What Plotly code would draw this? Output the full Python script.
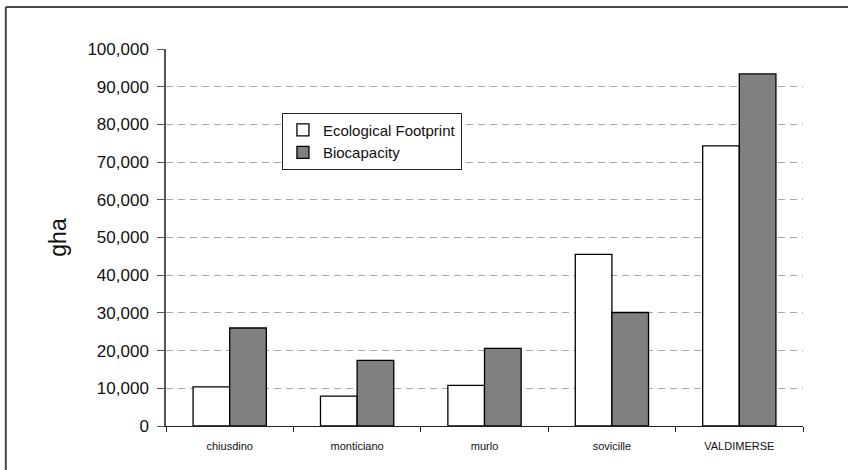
import plotly.graph_objects as go

# Municipalities and their values (global hectares)
municipalities = ["chiusdino", "monticiano", "murlo", "sovicille", "VALDIMERSE"]
ecological_footprint = [10400, 7900, 10800, 45500, 74300]
biocapacity = [26000, 17400, 20600, 30100, 93400]

y_ticks = [0, 10000, 20000, 30000, 40000, 50000, 60000, 70000, 80000, 90000, 100000]

FONT = "Liberation Sans, Arial, sans-serif"

fig = go.Figure()
fig.add_trace(go.Bar(
    x=municipalities, y=ecological_footprint, name="Ecological Footprint",
    marker=dict(color="white", line=dict(color="black", width=1.3)),
))
fig.add_trace(go.Bar(
    x=municipalities, y=biocapacity, name="Biocapacity",
    marker=dict(color="#808080", line=dict(color="black", width=1.3)),
))

fig.update_layout(
    width=848, height=470,
    margin=dict(l=166, r=45, t=49, b=44),
    paper_bgcolor="white", plot_bgcolor="white",
    barmode="group", bargap=0.425, bargroupgap=0,
    font=dict(family=FONT, color="#111"),
    showlegend=True,
    legend=dict(
        x=0.182, y=0.831, xanchor="left", yanchor="top",
        bgcolor="white", bordercolor="#222", borderwidth=1,
        font=dict(size=15, family=FONT, color="#111"),
        tracegroupgap=0, itemwidth=30,
    ),
    xaxis=dict(
        type="category", tickson="boundaries", ticks="outside", ticklen=5,
        tickcolor="#222", showline=True, linecolor="#222", linewidth=1,
        showgrid=False, ticklabelstandoff=10,
        tickfont=dict(size=11, family=FONT, color="#111"),
    ),
    yaxis=dict(
        range=[0, 100000], tickvals=y_ticks, tickformat=",",
        ticks="outside", ticklen=7, tickcolor="#555", ticklabelstandoff=5,
        showline=True, linecolor="#555", linewidth=1.5,
        showgrid=True, gridcolor="#a8a8a8", griddash="7px,5px", gridwidth=1,
        zeroline=False,
        tickfont=dict(size=17, family=FONT, color="#111"),
        title=dict(text="gha", font=dict(size=23, family=FONT, color="#111"), standoff=14),
    ),
)

# Outer chart frame (left and top edges, running off the canvas)
fig.add_shape(type="line", xref="paper", yref="paper",
              x0=-0.2515, x1=1.0707, y0=1.1114, y1=1.1114,
              line=dict(color="#111", width=1.5))
fig.add_shape(type="line", xref="paper", yref="paper",
              x0=-0.2515, x1=-0.2515, y0=1.1114, y1=-0.1167,
              line=dict(color="#444", width=2))

fig.write_html("out.html")
